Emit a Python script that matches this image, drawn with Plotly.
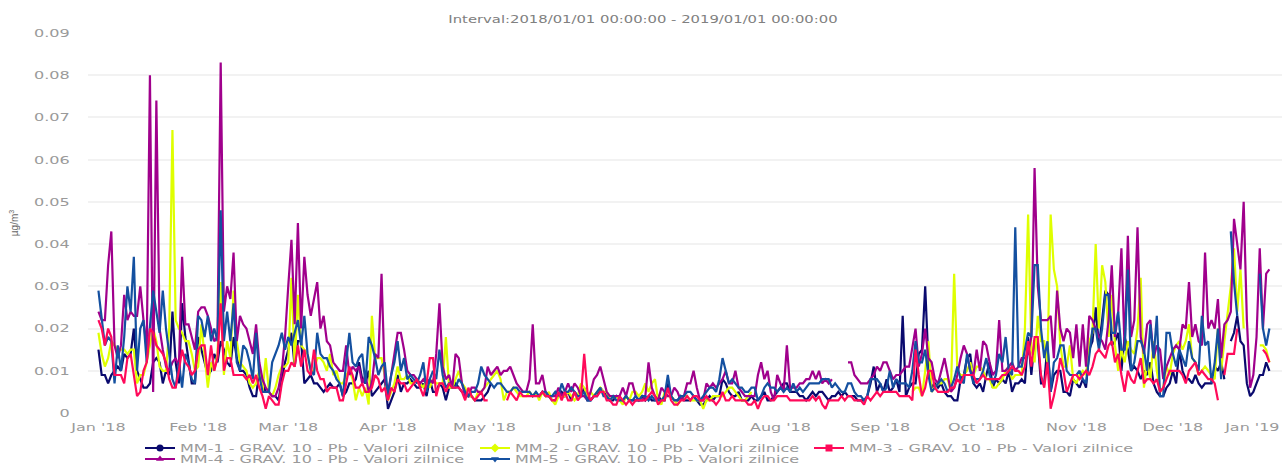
import pandas as pd
import plotly.graph_objects as go

N = None
mm1 = [15,9,9,7,9,10,11,10,14,13,14,20,10,8,6,6,7,12,13,12,7,10,9,24,12,7,26,18,12,7,7,
 18,15,12,9,10,14,12,17,15,12,11,18,13,10,10,9,6,4,4,10,7,5,5,4,4,3,8,12,
 15,19,11,17,17,7,8,9,7,7,6,5,6,7,6,6,7,4,5,7,7,8,12,8,7,10,4,5,6,7,8,
 1,3,5,9,5,7,7,8,7,6,6,7,4,8,5,5,7,6,3,6,6,7,6,5,5,4,4,3,3,3,
 4,5,7,N,N,N,N,N,N,N,N,N,N,N,N,N,N,4,5,4,4,3,3,4,5,4,5,3,5,4,4,
 6,3,3,4,4,6,5,4,3,3,4,3,3,4,3,3,3,3,4,3,4,3,3,4,3,3,7,4,3,3,
 4,3,3,3,4,3,2,2,3,4,3,4,4,8,7,5,4,4,5,3,3,3,4,3,3,4,5,3,3,4,5,
 6,7,7,5,5,5,4,4,3,4,5,4,5,5,4,3,4,4,5,4,5,4,4,4,3,3,3,4,7,11,5,
 7,5,8,5,6,8,5,23,4,6,7,7,14,15,30,12,6,7,6,7,5,4,4,3,3,8,9,13,14,7,
 6,7,5,9,12,6,8,7,8,7,10,5,7,7,8,7,18,9,17,17,7,7,16,5,9,10,10,5,5,4,8,
 7,6,8,6,15,17,25,16,22,29,28,16,17,19,10,18,15,10,11,10,8,10,9,12,7,5,4,4,6,7,
 10,7,15,10,8,8,7,9,7,6,7,7,7,11,10,12,8,N,17,19,23,17,16,7,4,5,7,9,9,12,10]
mm2 = [19,14,11,13,17,16,15,15,15,14,15,15,7,9,9,12,16,20,17,11,10,10,20,67,22,20,19,17,17,14,10,
 11,21,14,6,12,10,14,31,9,17,13,29,17,12,11,10,7,6,7,10,5,13,5,4,6,9,11,11,
 12,32,11,28,16,15,14,10,10,13,13,12,10,14,9,10,7,7,9,10,8,3,6,4,6,2,23,13,13,13,9,
 3,5,7,11,8,8,9,7,7,8,7,6,8,6,8,7,7,7,18,6,6,8,10,7,6,4,4,3,5,5,
 6,7,8,9,10,8,3,5,5,6,5,4,4,4,5,4,5,3,5,4,5,3,2,4,4,4,5,4,3,4,7,
 6,4,5,4,5,6,5,5,3,4,4,3,2,4,3,5,5,4,5,7,5,7,8,3,2,5,4,4,3,2,
 3,4,4,3,3,3,3,1,3,3,4,4,4,4,5,6,6,5,4,3,3,4,5,N,N,N,N,N,N,N,N,
 N,N,N,N,N,N,N,N,N,N,N,N,N,N,N,N,N,N,N,N,N,N,N,N,N,N,N,N,N,N,N,
 N,N,N,N,N,N,N,N,N,N,5,6,6,4,10,17,5,6,7,7,8,8,5,33,10,9,9,10,12,9,
 11,11,10,8,8,6,6,7,8,10,11,8,9,9,9,20,47,15,12,23,17,17,12,47,34,30,16,11,11,16,8,
 7,9,10,9,17,19,40,20,35,31,18,28,16,10,15,12,17,15,14,20,32,6,12,8,17,10,5,6,11,9,
 14,16,17,15,17,21,13,12,9,10,11,10,9,8,20,10,17,24,30,39,24,34,20,N,N,N,N,16,16,15,12]
mm3 = [22,20,16,20,18,9,9,9,7,13,14,9,4,5,10,12,20,19,16,15,14,12,8,6,6,10,15,12,11,9,10,
 15,16,16,9,16,10,13,26,10,13,13,9,9,9,9,8,9,7,9,6,4,1,4,3,2,2,7,10,
 10,12,11,16,11,15,10,9,15,10,8,8,5,6,6,6,3,3,7,11,9,6,6,7,5,5,6,9,8,5,6,
 3,6,5,8,7,7,5,6,7,8,6,4,7,13,13,4,7,7,5,7,6,6,6,5,3,6,4,3,4,5,
 3,3,N,N,N,N,N,3,5,4,3,5,4,4,4,4,4,4,5,4,4,3,3,5,3,5,3,3,5,3,4,
 14,5,3,4,4,5,5,3,3,2,2,4,3,2,3,2,3,3,3,3,4,5,4,2,3,3,6,3,2,2,
 3,3,4,3,4,4,3,3,4,3,3,2,3,5,3,3,4,3,3,3,3,2,2,3,1,3,4,4,3,3,4,
 4,4,4,3,3,3,3,3,3,3,4,3,4,2,1,3,3,3,3,4,3,4,4,3,3,3,2,4,3,4,5,
 4,5,5,5,5,5,4,4,4,4,3,15,9,4,6,10,10,6,5,5,5,5,6,6,8,7,9,9,9,9,
 7,8,9,8,8,8,8,8,9,9,10,11,10,10,9,11,17,11,18,18,9,6,12,1,4,8,13,10,5,7,9,
 9,8,9,10,9,11,14,15,14,13,16,17,12,14,9,5,10,8,7,10,13,7,8,8,7,8,5,6,8,10,
 10,10,10,9,7,10,11,12,9,10,9,8,8,7,3,N,9,14,14,14,20,N,N,N,N,N,N,N,15,14,12]
mm4 = [24,22,22,35,43,16,13,16,28,22,24,23,23,30,22,15,80,5,74,20,15,11,10,12,13,11,37,21,21,18,15,
 24,25,25,23,20,17,18,83,24,30,27,38,17,23,21,20,17,14,21,12,8,6,5,4,4,6,10,18,
 30,41,21,45,20,37,28,23,27,31,20,23,17,16,12,11,10,10,16,9,11,10,11,7,9,5,7,14,13,33,8,
 5,9,14,19,19,15,10,9,9,8,7,8,7,8,7,14,26,11,8,9,6,14,13,7,4,4,6,6,5,5,
 6,11,9,10,11,9,10,10,11,9,7,6,5,5,8,21,7,7,9,5,4,4,4,6,4,5,7,5,7,6,4,
 4,3,5,8,9,11,8,5,4,4,4,4,6,4,7,7,4,3,3,4,12,6,4,3,6,5,4,4,6,5,
 3,4,7,7,10,6,3,3,7,6,7,6,7,8,10,7,7,10,6,5,4,4,4,4,9,12,8,10,5,3,9,
 7,5,16,6,6,6,7,7,8,8,10,8,10,7,8,7,8,N,N,N,N,12,12,9,8,7,7,7,8,9,11,
 10,12,12,10,8,9,9,10,11,11,16,20,11,14,20,13,12,8,7,10,13,9,5,6,9,13,16,14,10,9,
 15,10,17,16,12,9,10,22,10,10,11,12,10,11,13,13,14,18,58,30,22,22,22,23,13,29,20,17,20,19,13,
 21,11,21,11,23,22,20,18,17,15,22,35,18,24,39,15,42,18,22,44,18,14,21,22,13,16,15,8,11,13,
 15,16,15,21,20,31,18,21,17,16,38,20,22,20,27,13,21,22,24,46,40,34,50,22,6,9,18,39,20,33,34]
mm5 = [29,22,16,18,17,7,16,10,18,30,24,37,10,20,22,12,20,29,24,19,29,20,14,8,6,12,6,14,12,8,7,
 23,22,18,23,17,20,17,48,17,24,17,26,12,10,16,15,12,8,19,9,5,5,5,12,14,16,19,15,
 18,16,19,22,16,23,14,10,9,19,14,13,13,11,10,8,7,4,12,19,12,11,13,14,7,18,16,13,9,11,12,
 4,9,12,17,10,13,8,9,8,7,9,12,5,8,10,8,15,9,6,7,6,6,8,7,5,4,5,5,7,11,
 9,8,7,6,7,7,6,5,5,6,6,5,5,5,5,4,5,4,5,5,4,4,5,4,7,5,5,6,5,4,4,
 5,3,3,4,5,6,4,4,3,4,3,3,3,4,3,3,4,3,4,4,3,4,3,3,3,4,9,4,3,3,
 4,4,5,5,4,3,3,4,5,6,6,5,8,13,10,7,8,7,6,6,5,5,6,6,3,4,6,7,6,6,5,
 6,5,6,5,7,5,6,5,6,7,7,7,7,8,8,8,6,7,6,5,5,7,7,5,4,4,3,4,8,8,8,
 7,5,6,10,6,8,7,7,7,6,10,17,12,12,15,9,5,6,7,8,7,5,6,8,11,8,7,14,10,7,
 8,8,10,13,9,7,9,14,12,18,10,9,44,11,11,15,19,18,35,35,20,13,17,5,12,13,16,16,10,9,9,
 9,10,8,7,14,20,20,15,20,28,28,19,19,24,15,15,34,10,12,17,17,15,10,21,13,23,4,4,19,19,
 14,11,15,13,11,17,13,12,10,23,16,17,7,12,20,8,N,N,43,31,23,N,N,N,N,N,N,33,20,16,20]
series_names = ["MM-1 - GRAV. 10 - Pb - Valori zilnice", "MM-2 - GRAV. 10 - Pb - Valori zilnice",
                "MM-3 - GRAV. 10 - Pb - Valori zilnice", "MM-4 - GRAV. 10 - Pb - Valori zilnice",
                "MM-5 - GRAV. 10 - Pb - Valori zilnice"]
colors = ["#0a0a6e", "#dfff00", "#ff0a5a", "#a0008c", "#1450a0"]
symbols = ["circle", "diamond", "square", "triangle-up", "triangle-down"]
tick_dates = ["2018-01-01","2018-02-01","2018-03-01","2018-04-01","2018-05-01","2018-06-01",
              "2018-07-01","2018-08-01","2018-09-01","2018-10-01","2018-11-01","2018-12-01","2019-01-01"]
tick_labels = ["Jan '18","Feb '18","Mar '18","Apr '18","May '18","Jun '18","Jul '18",
               "Aug '18","Sep '18","Oct '18","Nov '18","Dec '18","Jan '19" + "\u00a0"*8]
y_ticks = [0,0.01,0.02,0.03,0.04,0.05,0.06,0.07,0.08,0.09]
y_labels = ["0","0.01","0.02","0.03","0.04","0.05","0.06","0.07","0.08","0.09"]

data = [mm1, mm2, mm3, mm4, mm5]
for s in data:
    assert len(s) == 365
dates = pd.date_range("2018-01-01", periods=365, freq="D")

fig = go.Figure()
GRAY = "#9a9a9a"
FS = 11
L, R, T, B = 88, 1282, 33, 413
legend_pos = [(140, 448), (475, 448), (809, 448), (140, 459), (475, 459)]
for i in [0, 1, 3, 4, 2]:
    vals = [None if v is None else v / 1000 for v in data[i]]
    fig.add_trace(go.Scatter(x=dates, y=vals, mode="lines", showlegend=False,
                             line=dict(color=colors[i], width=2.2), hoverinfo="skip"))
layout_legends = {}
for i in range(5):
    key = "legend" if i == 0 else f"legend{i+1}"
    fig.add_trace(go.Scatter(x=[None], y=[None], mode="lines+markers", name=series_names[i], legend=key,
                             line=dict(color=colors[i], width=2),
                             marker=dict(color=colors[i], symbol=symbols[i], size=7)))
    px, py = legend_pos[i]
    layout_legends[key] = dict(x=(px - L) / (R - L), y=(B - py) / (B - T), xanchor="left", yanchor="middle",
                               bgcolor="rgba(0,0,0,0)", font=dict(family="DejaVu Sans", size=FS, color=GRAY),
                               itemwidth=30)

fig.update_layout(
    width=1282, height=463, autosize=False,
    margin=dict(l=L, r=1282 - R, t=T, b=463 - B, autoexpand=False),
    paper_bgcolor="white", plot_bgcolor="white",
    title=dict(text="Interval:2018/01/01 00:00:00 - 2019/01/01 00:00:00", x=643 / 1282, xanchor="center",
               y=1 - 19 / 463, yanchor="middle", font=dict(family="DejaVu Sans", size=FS, color="#808080")),
    xaxis=dict(range=["2017-12-28 18:00", "2019-01-03 22:00"], tickmode="array", tickvals=tick_dates,
               ticktext=tick_labels, tickangle=0, showgrid=False, zeroline=False, showline=False,
               ticks="outside", ticklen=4, tickcolor="rgba(0,0,0,0)", ticklabeloverflow="allow",
               tickfont=dict(family="DejaVu Sans", size=FS, color=GRAY)),
    yaxis=dict(range=[0, 0.09], tickmode="array", tickvals=y_ticks, ticktext=y_labels, showgrid=True,
               gridcolor="#f2f2f2", gridwidth=2, zeroline=False, showline=False,
               ticks="outside", ticklen=15, tickcolor="rgba(0,0,0,0)",
               tickfont=dict(family="DejaVu Sans", size=FS, color=GRAY),
               title=dict(text="µg/m<sup>3</sup>", standoff=24, font=dict(family="Liberation Sans", size=10, color="#666666"))),
    **layout_legends,
)
post = """
document.body.style.margin='0';document.body.style.overflow='hidden';
(function(){
  var gd=document.getElementById('{plot_id}');
  function stretch(sel,f){
    gd.querySelectorAll(sel).forEach(function(t){
      if(t.getAttribute('textLength')) return;
      var w=t.getComputedTextLength();
      if(w>0){t.setAttribute('textLength',w*f);t.setAttribute('lengthAdjust','spacingAndGlyphs');}
    });
  }
  function run(){
    stretch('.legendtext,.legend2text,.legend3text,.legend4text,.legend5text',1.456);
    gd.querySelectorAll('.scrollbox').forEach(function(b){b.removeAttribute('clip-path');b.style.clipPath='none';});
    stretch('.xtick text',1.45);
    stretch('.ytick text',1.46);
    stretch('.gtitle',1.345);
  }
  run();
  if(gd.on) gd.on('plotly_afterplot',run);
  var n=0,h=setInterval(function(){run();if(++n>40)clearInterval(h);},25);
})();
"""
fig.write_html("out.html", post_script=post, config={"displayModeBar": False})
